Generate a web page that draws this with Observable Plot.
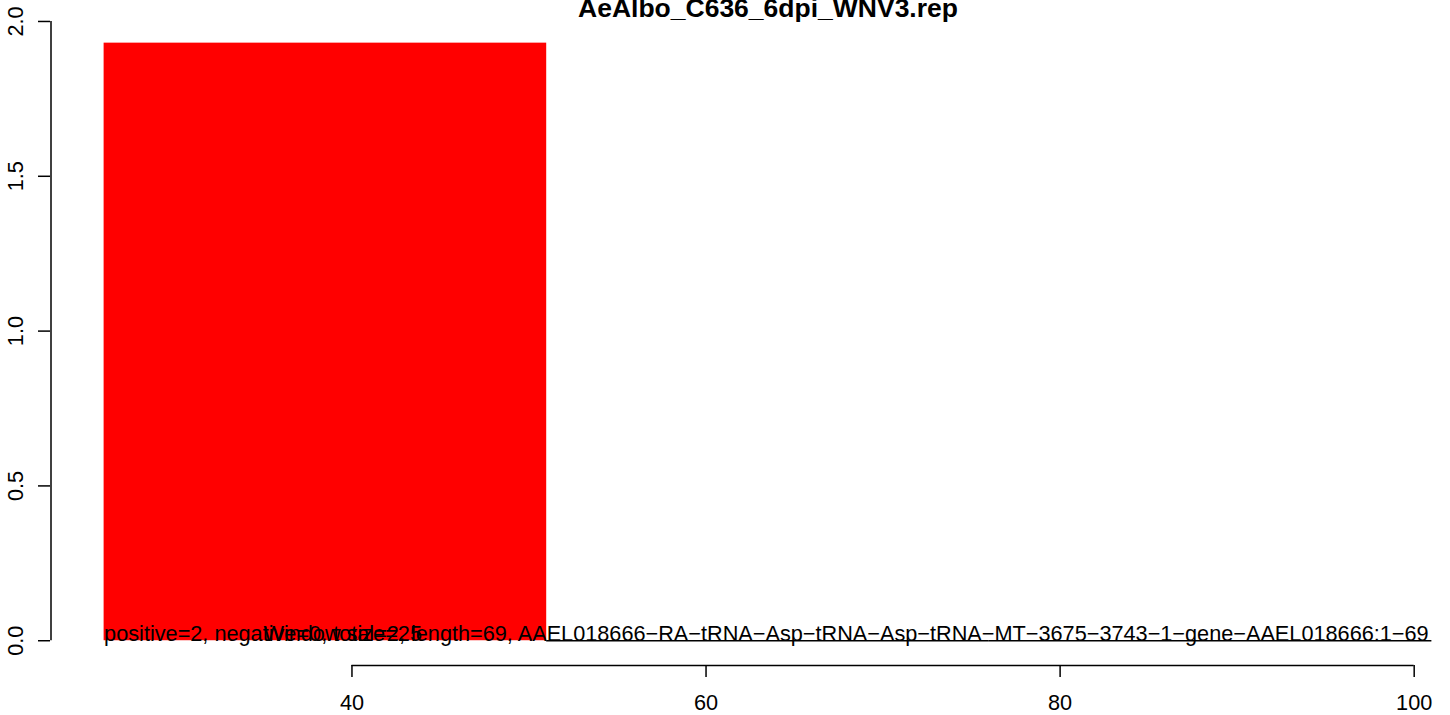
<!DOCTYPE html>
<html>
<head>
<meta charset="utf-8">
<script src="https://cdn.jsdelivr.net/npm/d3@7"></script>
<script src="https://cdn.jsdelivr.net/npm/@observablehq/plot@0.6"></script>
<style>
  html, body { margin: 0; padding: 0; background: #fff; }
  svg { font-family: "Liberation Sans", Arial, sans-serif; }
</style>
</head>
<body>
<div id="chart"></div>
<script>
// ---- data ----
const title = "AeAlbo_C636_6dpi_WNV3.rep";
const binStart = [26, 51, 76];
const binEnd = [51, 76, 101];
const counts = [1.93, 0, 0];
const xTicks = [40, 60, 80, 100];
const yTicks = [0, 0.5, 1.0, 1.5, 2.0];
const infoLabel = "positive=2, negative=0, total=2, length=69, AAEL018666\u2212RA\u2212tRNA\u2212Asp\u2212tRNA\u2212Asp\u2212tRNA\u2212MT\u22123675\u22123743\u22121\u2212gene\u2212AAEL018666:1\u221269";
const windowLabel = "Window size=25";

const bins = binStart.map((s, i) => ({x1: s, x2: binEnd[i], v: counts[i]}));

// R-style user coordinates (4% extension)
const xDomain = [23, 104];
const yDomain = [-0.08, 2.08];
const FS = 21.7;

const chart = Plot.plot({
  width: 1450,
  height: 715,
  marginLeft: 50,
  marginRight: 0,
  marginTop: 0,
  marginBottom: 50,
  style: {fontFamily: "Liberation Sans, Arial, sans-serif", fontSize: FS + "px", background: "white"},
  x: {domain: xDomain, range: [50.5, 1484.5], axis: null},
  y: {domain: yDomain, range: [665, -3.8], axis: null},
  marks: [
    // bars
    Plot.rect(bins.filter(d => d.v > 0), {x1: "x1", x2: "x2", y1: 0, y2: "v", fill: "red"}),
    Plot.ruleY(bins.filter(d => d.v === 0), {x1: "x1", x2: "x2", y: "v", stroke: "black", strokeWidth: 1.3}),
    // y axis
    Plot.ruleX([xDomain[0]], {y1: yTicks[0], y2: yTicks[yTicks.length - 1], stroke: "black", strokeWidth: 1.5}),
    Plot.axisY({ticks: yTicks, tickSize: 12, tickPadding: 16, tickRotate: -90, tickFormat: d3.format(".1f"), fontSize: FS, strokeWidth: 1.5, label: null}),
    // x axis
    Plot.ruleY([yDomain[0]], {x1: xTicks[0], x2: xTicks[xTicks.length - 1], stroke: "black", strokeWidth: 1.5}),
    Plot.axisX({ticks: xTicks, tickSize: 12, tickPadding: 17, fontSize: FS, strokeWidth: 1.5, label: null}),
    // texts
    Plot.text([infoLabel], {x: binStart[0], y: 0, text: d => d, textAnchor: "start", lineAnchor: "bottom", fontSize: FS, fill: "black"}),
    Plot.text([windowLabel], {x: 35, y: 0, text: d => d, textAnchor: "start", lineAnchor: "bottom", fontSize: FS, fill: "black"}),
    // title
    Plot.text([title], {x: (xDomain[0] + xDomain[1]) / 2, frameAnchor: "top", dy: 16, text: d => d, textAnchor: "middle", lineAnchor: "bottom", fontSize: 26.5, fontWeight: "bold", fill: "black"})
  ]
});
document.getElementById("chart").appendChild(chart);
</script>
</body>
</html>
